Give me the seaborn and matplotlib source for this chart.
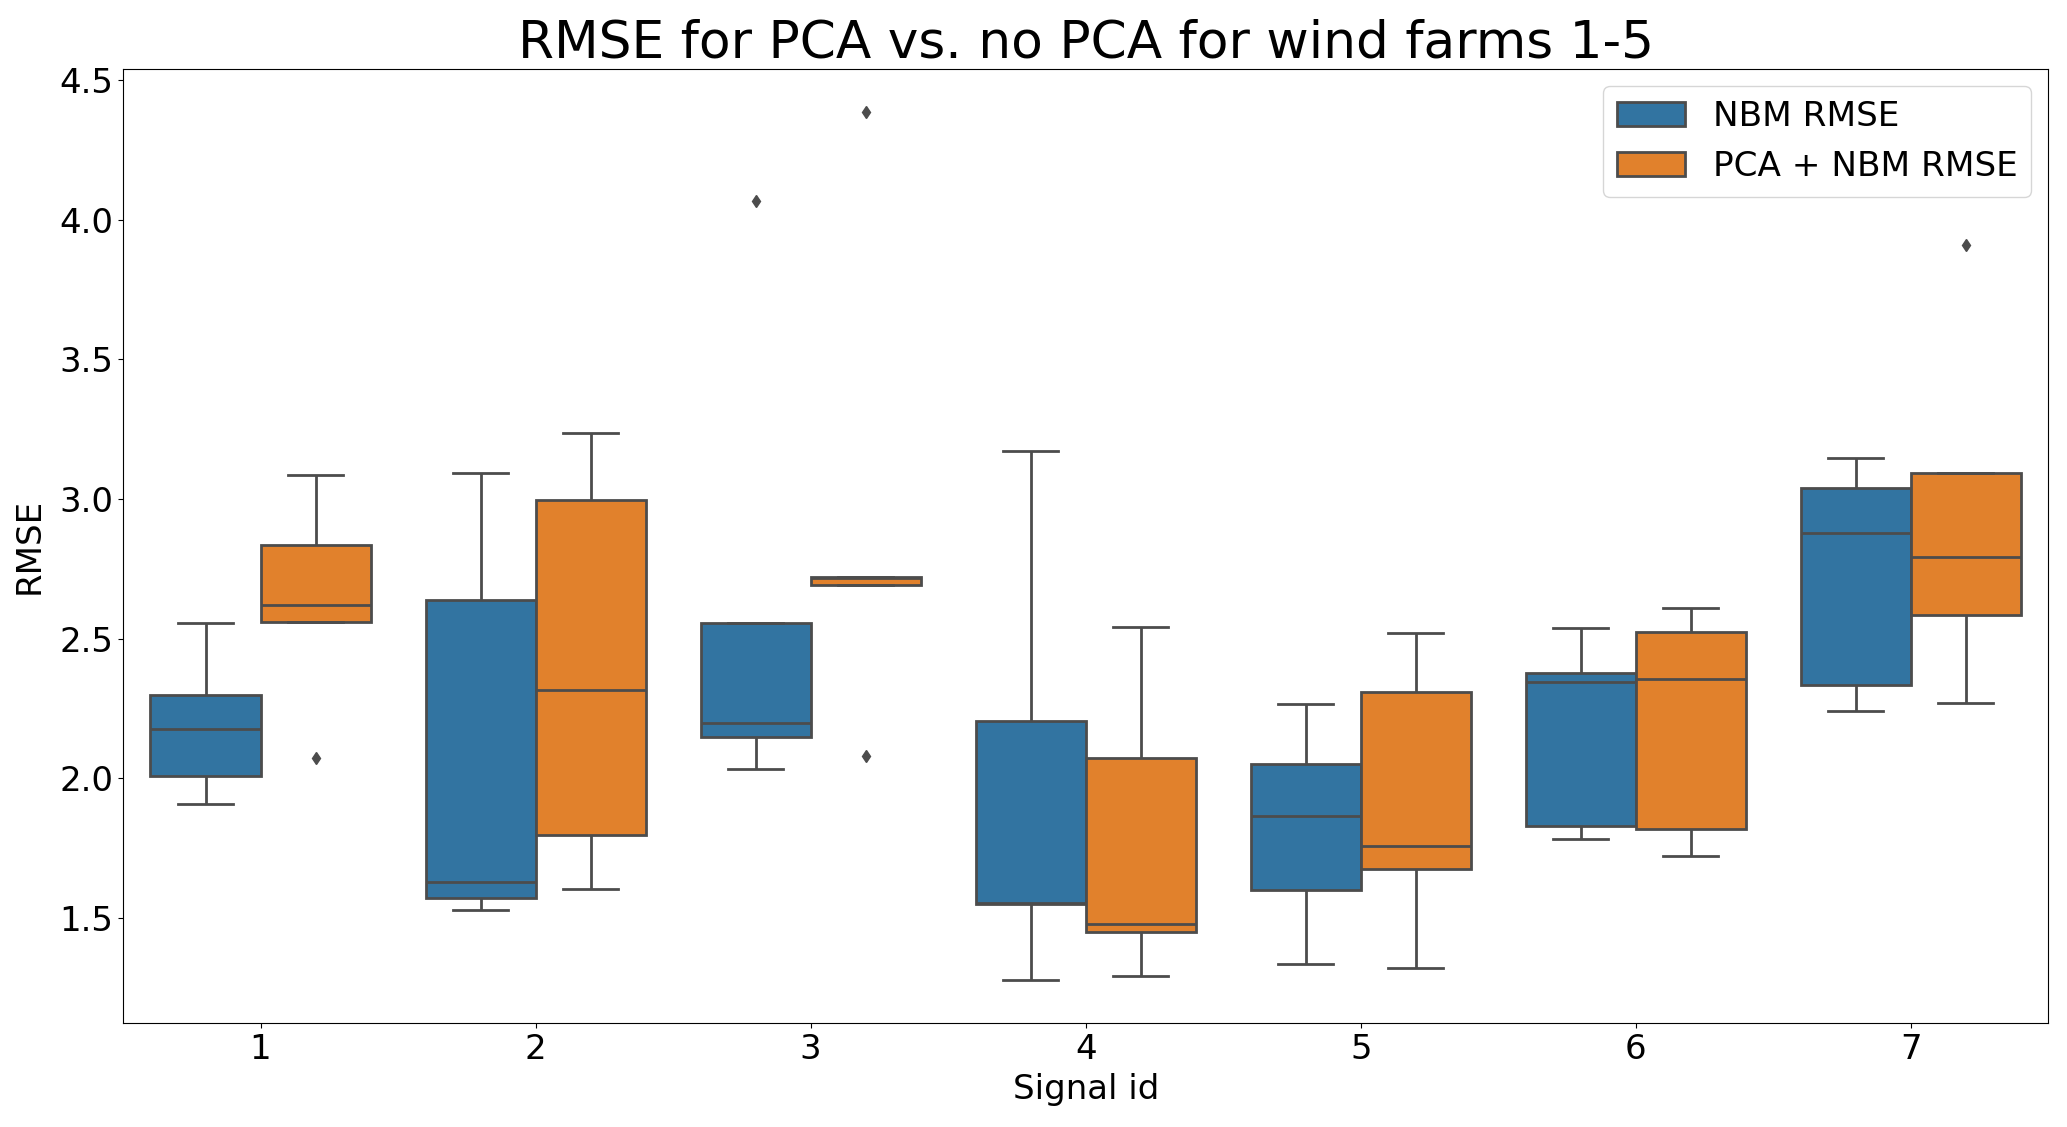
import numpy as np
import pandas as pd
import matplotlib
matplotlib.use("Agg")
import matplotlib.pyplot as plt
import seaborn as sns

# RMSE per wind farm (5 farms) for each signal id
signal_ids = [1, 2, 3, 4, 5, 6, 7]
models = ["NBM RMSE", "PCA + NBM RMSE"]

nbm_rmse = [
    [1.906, 2.009, 2.175, 2.297, 2.557],
    [1.528, 1.571, 1.627, 2.637, 3.094],
    [2.033, 2.146, 2.198, 2.557, 4.066],
    [1.278, 1.548, 1.553, 2.203, 3.170],
    [1.335, 1.599, 1.863, 2.052, 2.264],
    [1.783, 1.830, 2.344, 2.377, 2.538],
    [2.241, 2.335, 2.877, 3.038, 3.146],
]
pca_nbm_rmse = [
    [2.071, 2.560, 2.620, 2.835, 3.085],
    [1.604, 1.797, 2.316, 2.995, 3.236],
    [2.080, 2.693, 2.718, 2.722, 4.385],
    [1.292, 1.448, 1.476, 2.071, 2.542],
    [1.321, 1.675, 1.755, 2.307, 2.519],
    [1.722, 1.816, 2.354, 2.524, 2.608],
    [2.269, 2.585, 2.792, 3.094, 3.910],
]

rows = []
for sid, a, b in zip(signal_ids, nbm_rmse, pca_nbm_rmse):
    for v in a:
        rows.append({"Signal id": sid, "RMSE": v, "model": models[0]})
    for v in b:
        rows.append({"Signal id": sid, "RMSE": v, "model": models[1]})
df = pd.DataFrame(rows)

fig = plt.figure(figsize=(20.67, 11.27), dpi=100)
ax = fig.add_axes([0.0595, 0.0923, 0.9315, 0.8465])

palette = sns.color_palette("tab10", n_colors=2)
sns.boxplot(
    data=df,
    x="Signal id",
    y="RMSE",
    hue="model",
    palette=palette,
    saturation=0.75,
    linecolor="#4c4c4c",
    linewidth=2,
    fliersize=6,
    flierprops={"marker": "d", "markerfacecolor": "#4c4c4c", "markeredgecolor": "#4c4c4c"},
    ax=ax,
)

ax.set_title("RMSE for PCA vs. no PCA for wind farms 1-5", fontsize=37.3, pad=8)
ax.set_xlabel("Signal id", fontsize=24.5, labelpad=5)
ax.set_ylabel("RMSE", fontsize=24.5, labelpad=10)
ax.tick_params(axis="both", labelsize=24.5)
ax.legend(loc="upper right", fontsize=24.7, title=None)

fig.savefig("out.png", dpi=100)
